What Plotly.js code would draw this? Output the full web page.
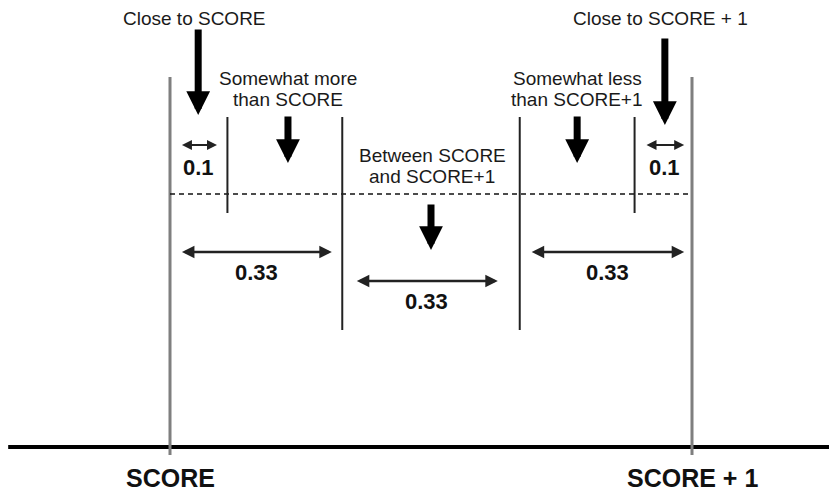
<!DOCTYPE html>
<html>
<head>
<meta charset="utf-8">
<script src="https://cdn.plot.ly/plotly-3.0.1.min.js"></script>
<style>html,body{margin:0;padding:0;background:#fff;}#chart{width:829px;height:491px;}</style>
</head>
<body>
<div id="chart"></div>
<script>
// Score scale: SCORE = 0, SCORE + 1 = 1
var axisLabels = ["SCORE", "SCORE + 1"];
var axisValues = [0, 1];
// Boundaries between the judgement zones (in score units)
var shortBounds = [0.11, 0.89];
var longBounds = [0.33, 0.67];
// Zone widths shown by double arrows
var smallWidths = ["0.1", "0.1"];
var smallStart = [0.02, 0.91];
var smallEnd = [0.09, 0.985];
var bigWidths = ["0.33", "0.33", "0.33"];
var bigStart = [0.02, 0.355, 0.69];
var bigEnd = [0.31, 0.628, 0.985];
// Zone names
var zoneNames = ["Close to SCORE", "Somewhat more<br>than SCORE", "Between SCORE<br>and SCORE+1", "Somewhat less<br>than SCORE+1", "Close to SCORE + 1"];
var zoneX = [0.046, 0.226, 0.502, 0.78, 0.939];
var zoneArrowX = [0.054, 0.226, 0.5, 0.78, 0.948];

var H = {boundTop: 370, innerTop: 330, shortBottom: 234, longBottom: 117, dash: 253};

var traces = [];
traces.push({x: [-0.31, 1.27], y: [0, 0], mode: "lines", line: {color: "#000", width: 4}, hoverinfo: "skip"});
axisValues.forEach(function (v) {
  traces.push({x: [v, v], y: [-8, H.boundTop], mode: "lines", line: {color: "#7f7f7f", width: 3}, hoverinfo: "skip"});
});
traces.push({x: [axisValues[0], axisValues[1]], y: [H.dash, H.dash], mode: "lines", line: {color: "#111", width: 1.6, dash: "5px,4px"}, hoverinfo: "skip"});
shortBounds.forEach(function (v) {
  traces.push({x: [v, v], y: [H.shortBottom, H.innerTop], mode: "lines", line: {color: "#222", width: 2}, hoverinfo: "skip"});
});
longBounds.forEach(function (v) {
  traces.push({x: [v, v], y: [H.longBottom, H.innerTop], mode: "lines", line: {color: "#222", width: 2}, hoverinfo: "skip"});
});

var ann = [];
var font = "Liberation Sans, Arial, sans-serif";
axisLabels.forEach(function (t, i) {
  ann.push({x: axisValues[i], y: -31, xref: "x", yref: "y", text: "<b>" + t + "</b>", showarrow: false, font: {family: font, size: 25, color: "#111"}});
});
var labelY = [429, 369, 292, 369, 429];
var arrowTop = [419, 332, 244, 332, 410];
var arrowTip = [332, 284, 197, 284, 322];
zoneNames.forEach(function (t, i) {
  t.split("<br>").forEach(function (line, j) {
    ann.push({x: zoneX[i], y: labelY[i] - 21 * j, xref: "x", yref: "y", text: line, showarrow: false, font: {family: font, size: 19, color: "#1a1a1a"}});
  });
  ann.push({x: zoneArrowX[i], y: arrowTip[i], ax: zoneArrowX[i], ay: arrowTop[i], xref: "x", yref: "y", axref: "x", ayref: "y",
    text: "", showarrow: true, arrowhead: 2, arrowsize: 0.68, arrowwidth: 7, arrowcolor: "#000"});
});
smallWidths.forEach(function (t, i) {
  ann.push({x: smallEnd[i], y: 302, ax: smallStart[i], ay: 302, xref: "x", yref: "y", axref: "x", ayref: "y",
    text: "", showarrow: true, arrowhead: 2, startarrowhead: 2, arrowside: "end+start", arrowsize: 1, startarrowsize: 1, arrowwidth: 2, arrowcolor: "#222"});
  ann.push({x: (smallStart[i] + smallEnd[i]) / 2, y: 280, xref: "x", yref: "y", text: "<b>" + t + "</b>", showarrow: false, font: {family: font, size: 22, color: "#111"}});
});
var bigY = [195, 166, 195];
bigWidths.forEach(function (t, i) {
  ann.push({x: bigEnd[i], y: bigY[i], ax: bigStart[i], ay: bigY[i], xref: "x", yref: "y", axref: "x", ayref: "y",
    text: "", showarrow: true, arrowhead: 2, startarrowhead: 2, arrowside: "end+start", arrowsize: 1, startarrowsize: 1, arrowwidth: 2.5, arrowcolor: "#222"});
  ann.push({x: (bigStart[i] + bigEnd[i]) / 2, y: bigY[i] - 20, xref: "x", yref: "y", text: "<b>" + t + "</b>", showarrow: false, font: {family: font, size: 22, color: "#111"}});
});

var layout = {
  width: 829, height: 491,
  margin: {l: 0, r: 0, t: 0, b: 0},
  paper_bgcolor: "#fff", plot_bgcolor: "#fff",
  showlegend: false,
  xaxis: {range: [-170 / 522, 659 / 522], visible: false, fixedrange: true},
  yaxis: {range: [-44, 447], visible: false, fixedrange: true},
  annotations: ann
};
Plotly.newPlot("chart", traces, layout, {staticPlot: true});
</script>
</body>
</html>
